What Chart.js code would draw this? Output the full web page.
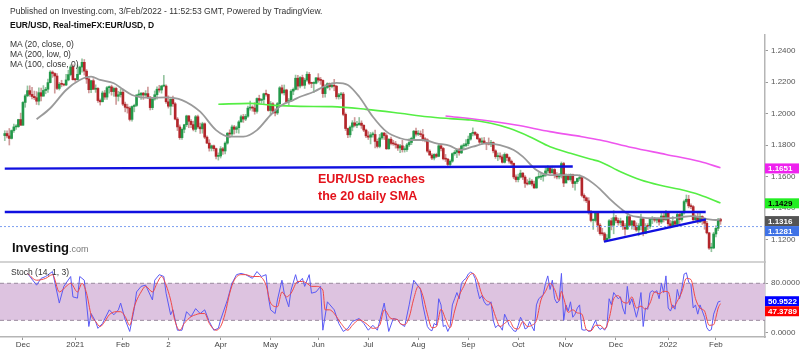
<!DOCTYPE html>
<html><head><meta charset="utf-8">
<script src="https://cdn.jsdelivr.net/npm/chart.js@4.4.0/dist/chart.umd.min.js"></script>
<style>
html,body{margin:0;padding:0;background:#fff;}
#wrap{position:relative;width:800px;height:352px;font-family:Arial,"Liberation Sans",sans-serif;overflow:hidden;}
#c{position:absolute;left:0;top:0;}
.t{position:absolute;white-space:nowrap;color:#333;font-size:8.5px;line-height:10px;}
.red{color:#e3121b;font-weight:bold;font-size:12.5px;line-height:14px;}
.logo{font-size:13px;line-height:14px;color:#111;}
.logo span{font-size:9px;color:#777;font-weight:normal;}
</style></head><body>
<div id="wrap">
<canvas id="c" width="800" height="352"></canvas>
<div class="t" style="left:10px;top:6px">Published on Investing.com, 3/Feb/2022 - 11:52:53 GMT, Powered by TradingView.</div>
<div class="t" style="left:10px;top:20px;font-weight:bold;color:#111">EUR/USD, Real-timeFX:EUR/USD, D</div>
<div class="t" style="left:10px;top:39px">MA (20, close, 0)</div>
<div class="t" style="left:10px;top:49px">MA (200, low, 0)</div>
<div class="t" style="left:10px;top:59px">MA (100, close, 0)</div>
<div class="t red" style="left:318px;top:172px">EUR/USD reaches</div>
<div class="t red" style="left:318px;top:189px">the 20 daily SMA</div>
<div class="t logo" style="left:12px;top:241px"><b>Investing</b><span>.com</span></div>
<div class="t" style="left:11px;top:267px">Stoch (14, 1, 3)</div>
</div>
<script>
// ---------------- DATA ----------------
const startIndex = -8; // first candle = 19 Nov 2020, index 0 = 1 Dec 2020
const opens = [
1.1860,1.1873,1.1858,1.1842,1.1892,1.1915,1.1917,1.1962,
1.1926,1.2071,1.2113,1.2146,1.2122,1.2109,1.2101,1.2079,1.2133,1.2111,1.2147,1.2155,1.2197,1.2264,1.2255,1.2239,1.2160,1.2187,1.2186,1.2182,1.2214,1.2248,1.2297,
1.2216,1.2215,1.2250,1.2296,1.2326,1.2270,1.2220,1.2152,1.2209,1.2155,1.2160,1.2083,1.2075,1.2131,1.2105,1.2165,1.2170,1.2140,1.2160,1.2110,1.2120,
1.2136,1.2060,1.2040,1.2035,1.1963,1.2045,1.2052,1.2118,1.2118,1.2130,1.2118,1.2127,1.2105,1.2038,1.2093,1.2120,1.2155,1.2150,1.2175,1.2175,
1.2075,1.2047,1.2091,1.2062,1.1965,1.1915,1.1847,1.1900,1.1929,1.1985,1.1951,1.1930,1.1900,1.1980,1.1915,1.1903,1.1935,1.1850,1.1812,1.1780,1.1795,1.1777,1.1728,
1.1730,1.1776,1.1762,1.1812,1.1875,1.1870,1.1915,1.1900,1.1910,1.1947,1.1980,1.1965,1.1983,1.2035,1.2037,1.2035,1.2014,1.2096,1.2084,1.2090,1.2126,1.2122,
1.2020,1.2062,1.2015,1.2004,1.2063,1.2164,1.2132,1.2150,1.2075,1.2081,1.2143,1.2154,1.2225,1.2175,1.2229,1.2180,1.2213,1.2250,1.2193,1.2192,1.2193,
1.2227,1.2213,1.2211,1.2127,1.2166,1.2190,1.2172,1.2180,1.2174,1.2107,1.2119,1.2124,1.1995,1.1905,1.1865,1.1914,1.1941,1.1925,1.1930,1.1939,1.1925,1.1895,
1.1858,1.1850,1.1865,1.1867,1.1823,1.1791,1.1845,1.1876,1.1860,1.1776,1.1837,1.1810,1.1807,1.1801,1.1781,1.1795,1.1770,1.1771,1.1801,1.1816,1.1842,1.1888,
1.1869,1.1869,1.1866,1.1835,1.1833,1.1761,1.1736,1.1717,1.1740,1.1728,1.1795,1.1778,1.1712,1.1710,1.1676,1.1697,1.1745,1.1754,1.1773,1.1750,1.1794,1.1797,
1.1808,1.1837,1.1874,1.1880,1.1868,1.1840,1.1818,1.1826,1.1813,1.1807,1.1806,1.1816,1.1763,1.1726,1.1728,1.1724,1.1690,1.1740,1.1720,1.1697,1.1683,1.1597,
1.1580,1.1596,1.1621,1.1596,1.1556,1.1552,1.1570,1.1552,1.1527,1.1594,1.1596,1.1601,1.1608,1.1635,1.1654,1.1623,1.1644,1.1608,1.1597,1.1604,1.1682,
1.1558,1.1607,1.1580,1.1612,1.1555,1.1567,1.1587,1.1593,1.1479,1.1464,1.1445,1.1369,1.1320,1.1320,1.1371,1.1290,1.1236,1.1235,1.1196,1.1207,1.1318,1.1290,
1.1338,1.1320,1.1305,1.1316,1.1285,1.1265,1.1344,1.1290,1.1316,1.1285,1.1259,1.1286,1.1330,1.1238,1.1283,1.1282,1.1327,1.1328,1.1322,1.1327,1.1310,1.1348,1.1324,
1.1370,1.1299,1.1287,1.1313,1.1296,1.1358,1.1326,1.1368,1.1440,1.1455,1.1413,1.1408,1.1325,1.1343,1.1311,1.1345,1.1325,1.1302,1.1241,1.1144,1.1145,
1.1234,1.1270,1.1328];
const highs = [
1.1891,1.1890,1.1905,1.1896,1.1933,1.1930,1.1964,1.2003,
1.2077,1.2122,1.2176,1.2177,1.2167,1.2143,1.2140,1.2164,1.2162,1.2178,1.2167,1.2220,1.2273,1.2272,1.2260,1.2255,1.2198,1.2212,1.2190,1.2250,1.2276,1.2310,1.2310,
1.2224,1.2310,1.2302,1.2349,1.2344,1.2280,1.2227,1.2212,1.2222,1.2183,1.2166,1.2093,1.2143,1.2147,1.2173,1.2176,1.2181,1.2169,1.2168,1.2142,1.2155,
1.2150,1.2073,1.2060,1.2044,1.2050,1.2060,1.2121,1.2150,1.2133,1.2135,1.2146,1.2168,1.2108,1.2096,1.2144,1.2170,1.2180,1.2180,1.2243,1.2183,
1.2113,1.2094,1.2112,1.2070,1.1975,1.1928,1.1910,1.1932,1.1990,1.1988,1.1962,1.1952,1.1989,1.1990,1.1940,1.1945,1.1941,1.1859,1.1834,1.1800,1.1800,1.1780,1.1750,
1.1790,1.1785,1.1820,1.1880,1.1897,1.1927,1.1925,1.1920,1.1955,1.1990,1.1995,1.1995,1.2048,1.2079,1.2050,1.2070,1.2100,1.2117,1.2095,1.2130,1.2150,1.2124,
1.2077,1.2070,1.2030,1.2071,1.2172,1.2182,1.2182,1.2155,1.2096,1.2153,1.2163,1.2245,1.2244,1.2235,1.2245,1.2225,1.2266,1.2262,1.2200,1.2202,1.2231,
1.2254,1.2230,1.2215,1.2185,1.2196,1.2195,1.2195,1.2218,1.2180,1.2129,1.2135,1.2135,1.2004,1.1907,1.1922,1.1955,1.1975,1.1950,1.1975,1.1954,1.1930,1.1902,
1.1885,1.1880,1.1883,1.1895,1.1838,1.1868,1.1880,1.1880,1.1872,1.1840,1.1850,1.1830,1.1823,1.1806,1.1805,1.1830,1.1790,1.1810,1.1840,1.1850,1.1893,1.1908,
1.1892,1.1890,1.1900,1.1848,1.1840,1.1770,1.1745,1.1745,1.1748,1.1804,1.1804,1.1785,1.1740,1.1715,1.1705,1.1750,1.1765,1.1775,1.1780,1.1800,1.1810,1.1835,
1.1857,1.1875,1.1909,1.1885,1.1875,1.1845,1.1845,1.1848,1.1815,1.1845,1.1830,1.1820,1.1770,1.1750,1.1750,1.1738,1.1750,1.1745,1.1725,1.1705,1.1686,1.1610,
1.1615,1.1640,1.1625,1.1605,1.1580,1.1590,1.1580,1.1570,1.1600,1.1625,1.1620,1.1620,1.1660,1.1668,1.1660,1.1666,1.1650,1.1625,1.1620,1.1692,1.1690,
1.1617,1.1615,1.1617,1.1615,1.1570,1.1590,1.1610,1.1600,1.1490,1.1470,1.1465,1.1385,1.1330,1.1375,1.1375,1.1300,1.1270,1.1245,1.1230,1.1325,1.1335,1.1383,
1.1353,1.1335,1.1335,1.1320,1.1300,1.1355,1.1350,1.1320,1.1320,1.1305,1.1300,1.1360,1.1335,1.1300,1.1300,1.1330,1.1345,1.1340,1.1330,1.1332,1.1365,1.1365,1.1385,
1.1375,1.1320,1.1345,1.1320,1.1365,1.1365,1.1375,1.1450,1.1482,1.1480,1.1425,1.1415,1.1355,1.1370,1.1365,1.1350,1.1335,1.1315,1.1245,1.1175,1.1245,
1.1285,1.1332,1.1334];
const lows = [
1.1828,1.1845,1.1800,1.1838,1.1880,1.1900,1.1912,1.1925,
1.1925,1.2040,1.2107,1.2110,1.2093,1.2089,1.2058,1.2055,1.2080,1.2111,1.2126,1.2135,1.2195,1.2230,1.2130,1.2152,1.2150,1.2170,1.2176,1.2178,1.2208,1.2240,1.2212,
1.2205,1.2220,1.2250,1.2264,1.2245,1.2192,1.2132,1.2133,1.2153,1.2135,1.2071,1.2054,1.2075,1.2090,1.2090,1.2130,1.2117,1.2110,1.2058,1.2080,1.2105,
1.2050,1.2011,1.2003,1.1953,1.1952,1.2011,1.2045,1.2110,1.2090,1.2090,1.2109,1.2095,1.2023,1.2025,1.2085,1.2091,1.2136,1.2130,1.2170,1.2064,
1.2035,1.1992,1.2045,1.1960,1.1892,1.1836,1.1835,1.1878,1.1917,1.1910,1.1910,1.1890,1.1884,1.1906,1.1873,1.1875,1.1840,1.1808,1.1761,1.1762,1.1762,1.1712,1.1704,
1.1717,1.1740,1.1743,1.1805,1.1846,1.1860,1.1870,1.1877,1.1875,1.1945,1.1944,1.1955,1.1975,1.2021,1.2015,1.1996,1.2003,1.2070,1.2065,1.2060,1.2110,1.2015,
1.1995,1.1999,1.1985,1.1994,1.2051,1.2125,1.2118,1.2071,1.2052,1.2078,1.2120,1.2150,1.2151,1.2163,1.2175,1.2160,1.2205,1.2185,1.2165,1.2133,1.2188,
1.2200,1.2186,1.2103,1.2105,1.2160,1.2150,1.2163,1.2145,1.2093,1.2092,1.2095,1.1986,1.1892,1.1847,1.1850,1.1890,1.1915,1.1910,1.1925,1.1906,1.1885,1.1846,
1.1835,1.1807,1.1850,1.1782,1.1781,1.1782,1.1835,1.1835,1.1772,1.1773,1.1800,1.1798,1.1780,1.1765,1.1752,1.1755,1.1755,1.1760,1.1790,1.1802,1.1835,1.1857,
1.1860,1.1853,1.1825,1.1820,1.1753,1.1735,1.1707,1.1705,1.1720,1.1725,1.1762,1.1705,1.1695,1.1666,1.1664,1.1690,1.1735,1.1720,1.1735,1.1745,1.1775,1.1790,
1.1795,1.1830,1.1858,1.1860,1.1835,1.1802,1.1805,1.1808,1.1770,1.1800,1.1790,1.1750,1.1715,1.1701,1.1710,1.1685,1.1685,1.1700,1.1685,1.1670,1.1585,1.1565,
1.1565,1.1590,1.1580,1.1530,1.1545,1.1550,1.1540,1.1524,1.1525,1.1585,1.1580,1.1570,1.1600,1.1620,1.1618,1.1620,1.1590,1.1585,1.1585,1.1590,1.1535,
1.1560,1.1575,1.1570,1.1530,1.1513,1.1555,1.1575,1.1470,1.1445,1.1433,1.1360,1.1310,1.1263,1.1310,1.1250,1.1226,1.1225,1.1186,1.1190,1.1205,1.1260,1.1235,
1.1305,1.1290,1.1290,1.1262,1.1227,1.1262,1.1285,1.1265,1.1262,1.1250,1.1222,1.1260,1.1222,1.1235,1.1262,1.1270,1.1300,1.1310,1.1305,1.1290,1.1300,1.1310,1.1320,
1.1280,1.1272,1.1285,1.1285,1.1290,1.1300,1.1315,1.1360,1.1430,1.1400,1.1395,1.1315,1.1310,1.1300,1.1306,1.1295,1.1264,1.1235,1.1135,1.1121,1.1140,
1.1215,1.1255,1.1295];
const closes = [
1.1873,1.1858,1.1842,1.1892,1.1915,1.1917,1.1962,1.1926,
1.2071,1.2113,1.2146,1.2122,1.2109,1.2101,1.2079,1.2133,1.2111,1.2147,1.2155,1.2197,1.2264,1.2255,1.2239,1.2160,1.2187,1.2186,1.2182,1.2214,1.2248,1.2297,1.2216,
1.2215,1.2250,1.2296,1.2326,1.2270,1.2220,1.2152,1.2209,1.2155,1.2160,1.2083,1.2075,1.2131,1.2105,1.2165,1.2170,1.2140,1.2160,1.2110,1.2120,1.2136,
1.2060,1.2040,1.2035,1.1963,1.2045,1.2052,1.2118,1.2118,1.2130,1.2118,1.2127,1.2105,1.2038,1.2093,1.2120,1.2155,1.2150,1.2175,1.2175,1.2075,
1.2047,1.2091,1.2062,1.1965,1.1915,1.1847,1.1900,1.1929,1.1985,1.1951,1.1930,1.1900,1.1980,1.1915,1.1903,1.1935,1.1850,1.1812,1.1780,1.1795,1.1777,1.1728,1.1730,
1.1776,1.1762,1.1812,1.1875,1.1870,1.1915,1.1900,1.1910,1.1947,1.1980,1.1965,1.1983,1.2035,1.2037,1.2035,1.2014,1.2096,1.2084,1.2090,1.2126,1.2122,1.2020,
1.2062,1.2015,1.2004,1.2063,1.2164,1.2132,1.2150,1.2075,1.2081,1.2143,1.2154,1.2225,1.2175,1.2229,1.2180,1.2213,1.2250,1.2193,1.2192,1.2193,1.2227,
1.2213,1.2211,1.2127,1.2166,1.2190,1.2172,1.2180,1.2174,1.2107,1.2119,1.2124,1.1995,1.1905,1.1865,1.1914,1.1941,1.1925,1.1930,1.1939,1.1925,1.1895,1.1858,
1.1850,1.1865,1.1867,1.1823,1.1791,1.1845,1.1876,1.1860,1.1776,1.1837,1.1810,1.1807,1.1801,1.1781,1.1795,1.1770,1.1771,1.1801,1.1816,1.1842,1.1888,1.1869,
1.1869,1.1866,1.1835,1.1833,1.1761,1.1736,1.1717,1.1740,1.1728,1.1795,1.1778,1.1712,1.1710,1.1676,1.1697,1.1745,1.1754,1.1773,1.1750,1.1794,1.1797,1.1808,
1.1837,1.1874,1.1880,1.1868,1.1840,1.1818,1.1826,1.1813,1.1807,1.1806,1.1816,1.1763,1.1726,1.1728,1.1724,1.1690,1.1740,1.1720,1.1697,1.1683,1.1597,1.1580,
1.1596,1.1621,1.1596,1.1556,1.1552,1.1570,1.1552,1.1527,1.1594,1.1596,1.1601,1.1608,1.1635,1.1654,1.1623,1.1644,1.1608,1.1597,1.1604,1.1682,1.1558,
1.1607,1.1580,1.1612,1.1555,1.1567,1.1587,1.1593,1.1479,1.1464,1.1445,1.1369,1.1320,1.1320,1.1371,1.1290,1.1236,1.1235,1.1196,1.1207,1.1318,1.1290,1.1338,
1.1320,1.1305,1.1316,1.1285,1.1265,1.1344,1.1290,1.1316,1.1285,1.1259,1.1286,1.1330,1.1238,1.1283,1.1282,1.1327,1.1328,1.1322,1.1327,1.1310,1.1348,1.1324,1.1370,
1.1299,1.1287,1.1313,1.1296,1.1358,1.1326,1.1368,1.1440,1.1455,1.1413,1.1408,1.1325,1.1343,1.1311,1.1345,1.1325,1.1302,1.1241,1.1144,1.1145,1.1234,
1.1270,1.1328,1.1316];

const monthTicks  = [0,23,44,64,87,109,130,152,174,196,218,239,261,284,305];
const monthLabels = ['Dec','2021','Feb','2','Apr','May','Jun','Jul','Aug','Sep','Oct','Nov','Dec','2022','Feb'];
const priceTicks = [1.12,1.14,1.16,1.18,1.20,1.22,1.24];
const stochTicks = [0,80];

const ma20Idx = [6,12,19,25,30,34,40,44,48,52,56,63,70,78,85,91,97,103,109,114,119,122,128,134,138,143,148,154,160,166,170,176,182,188,192,198,204,210,216,220,226,232,238,244,247,251,254,258,263,267,272,277,283,289,294,298,302,305,307];
const ma20Val = [1.1964,1.2034,1.2150,1.2214,1.2235,1.2214,1.2193,1.2154,1.2118,1.2103,1.2100,1.2103,1.2086,1.2012,1.1895,1.1853,1.1853,1.1895,1.1991,1.2054,1.2086,1.2107,1.2139,1.2182,1.2196,1.2182,1.2107,1.1980,1.1885,1.1843,1.1832,1.1832,1.1811,1.1795,1.1768,1.1789,1.1811,1.1800,1.1768,1.1726,1.1641,1.1609,1.1609,1.1609,1.1594,1.1556,1.1519,1.1461,1.1397,1.1355,1.1340,1.1334,1.1334,1.1340,1.1348,1.1340,1.1327,1.1323,1.1327];
const ma100Idx = [86,100,109,122,136,151,166,178,188,197,206,214,223,232,241,250,254,263,272,280,289,298,307];
const ma100Val = [1.2059,1.2065,1.2054,1.2046,1.2044,1.2027,1.2002,1.1980,1.1968,1.1959,1.1938,1.1906,1.1853,1.1789,1.1747,1.1709,1.1694,1.1630,1.1577,1.1545,1.1518,1.1482,1.1431];
const ma200Idx = [186,202,217,232,246,254,268,283,298,307];
const ma200Val = [1.1985,1.1959,1.1927,1.1885,1.1853,1.1832,1.1784,1.1740,1.1695,1.1655];

const res1Idx = [-8,242],      res1Val = [1.1650,1.1663];
const res2Idx = [-8,300.5],    res2Val = [1.1374,1.1374];
const trendIdx = [255.7,300.6], trendVal = [1.1185,1.1327];
const bidLine = 1.1281;
const priceTags = [1.1651,1.1429,1.1316,1.1281];
const stochTags = [50.9522,47.3789];
const stochBand = [80,20];

const kIdx = [2,6,8,10,13,16,18,21,22,24,25,27,29,30,32,33,35,38,40,42,43,45,47,49,50,52,54,57,58,60,62,63,65,66,68,70,72,74,76,78,80,82,84,86,87,90,92,94,96,98,101,103,105,107,108,109,111,112,114,115,117,118,120,121,123,124,126,127,129,131,132,134,137,139,141,143,145,148,150,152,154,156,159,161,163,165,
166,168,170,172,173,175,176,178,179,180,181,182,183,184,185,186,187,188,189,190,191,192,193,194,195,196,197,198,199,200,201,202,203,204,205,206,207,208,209,210,211,212,213,214,215,216,217,218,219,220,221,222,223,224,225,226,227,228,229,230,231,232,233,234,235,236,237,238,239,240,241,242,243,244,245,246,247,248,249,250,251,252,253,254,255,256,257,258,259,260,261,262,263,264,265,266,267,268,269,270,271,272,273,274,275,276,277,278,279,280,281,282,283,284,285,286,287,288,289,290,291,292,293,294,295,296,297,298,299,300,301,302,303,304,305,306,307];
const kVal = [96,77,88,91,99,48,75,91,58,56,91,85,10,31,18,7,15,37,29,37,48,21,2,39,66,75,77,53,85,94,91,64,29,37,4,4,34,26,39,31,37,18,4,7,21,53,80,94,96,94,88,99,91,94,58,37,31,53,85,64,42,69,94,80,88,75,94,64,66,75,4,50,37,15,2,7,18,23,15,4,12,4,48,2,23,21,
15,10,45,85,80,70,45,10,5,3,15,12,55,45,10,12,2,10,45,55,65,55,80,85,88,95,98,96,88,70,55,60,50,45,45,50,20,8,12,10,4,30,22,12,8,3,2,12,25,18,6,8,18,10,3,45,55,58,62,80,92,70,85,55,48,52,96,20,45,35,50,25,30,40,45,5,4,5,2,3,12,20,10,5,8,4,10,55,45,65,60,55,58,40,30,75,45,55,40,25,40,65,10,40,38,65,68,65,68,55,80,65,92,40,35,45,38,70,55,72,95,97,82,78,40,45,30,45,35,25,8,3,5,30,40,50,51];
const dIdx = [2,6,10,13,16,19,21,24,26,28,30,32,34,36,38,41,43,45,47,49,52,54,57,59,61,63,65,67,69,71,74,76,78,80,82,85,87,89,91,93,96,98,101,104,107,109,112,114,116,118,121,123,125,127,129,132,133,135,137,140,143,145,148,151,154,157,159,162,165,
166,168,170,172,174,176,178,180,182,184,186,188,190,192,194,196,198,200,202,204,206,208,210,212,214,216,218,220,222,224,226,228,230,232,234,236,237,238,240,242,244,246,248,250,252,254,256,258,260,262,264,266,268,270,272,274,276,278,280,282,284,286,288,290,292,294,296,298,300,302,304,305,306,307];
const dVal = [96,85,88,94,66,75,80,66,80,64,29,18,10,18,29,34,34,26,12,42,66,75,66,80,91,77,53,18,4,15,26,29,31,31,15,4,10,31,64,85,94,94,91,91,77,48,42,66,58,64,83,83,80,75,75,69,37,37,31,15,4,12,21,15,7,12,37,23,21,
15,13,25,55,75,60,30,8,10,38,22,8,35,60,75,90,96,85,62,52,47,26,10,15,20,8,6,18,10,12,20,53,67,80,70,52,67,56,33,37,32,30,5,3,12,12,6,23,55,60,50,48,58,40,43,38,48,66,63,67,66,40,51,66,88,86,55,40,35,12,13,25,40,47];

// ---------------- STYLE / BUILD ----------------
const UP='#23994a', DN='#b3262b', UPW='#95c4a0', DNW='#cf9a9a';
const tagStyle = [['#ee22ee','#fff'],['#22ee22','#000'],['#555555','#fff'],['#3f72e6','#fff']];
const stochTagStyle = [['#0000ff','#fff'],['#ff0000','#fff']];
const XMIN=-10.1, XMAX=326.6;
const pts=(xs,ys)=>xs.map((x,i)=>({x:x,y:ys[i]}));
const isUp=k=>closes[k]>=opens[k];
const wickData=closes.map((c,k)=>({x:startIndex+k,y:[lows[k],highs[k]]}));
const bodyData=closes.map((c,k)=>({x:startIndex+k,y:[opens[k],c]}));
const line=(data,color,w,order,extra)=>Object.assign({type:'line',data:data,borderColor:color,borderWidth:w,pointRadius:0,fill:false,order:order,yAxisID:'y'},extra||{});

const datasets=[
 {type:'bar',data:wickData,grouped:false,barThickness:1,order:60,yAxisID:'y',
  backgroundColor:c=>isUp(c.dataIndex)?UPW:DNW},
 {type:'bar',data:bodyData,grouped:false,barThickness:2,minBarLength:1,order:55,yAxisID:'y',
  backgroundColor:c=>isUp(c.dataIndex)?UP:DN},
 line(pts(ma20Idx,ma20Val),'#9a9a9a',1.8,30,{cubicInterpolationMode:'monotone'}),
 line(pts(ma100Idx,ma100Val),'#55ee44',1.6,31,{cubicInterpolationMode:'monotone'}),
 line(pts(ma200Idx,ma200Val),'#ee55ee',1.6,32,{cubicInterpolationMode:'monotone'}),
 line(pts([XMIN,XMAX],[bidLine,bidLine]),'#7d9ff0',1,25,{borderDash:[2,2]}),
 line(pts(res1Idx,res1Val),'#1010e0',2.4,20),
 line(pts(res2Idx,res2Val),'#1010e0',2.4,20),
 line(pts(trendIdx,trendVal),'#1010e0',2.4,20),
 line(pts([XMIN,XMAX],[stochBand[0],stochBand[0]]),'#9a8a9e',1,100,{yAxisID:'y2',borderDash:[4,3],fill:'+1',backgroundColor:'#ddc3e0'}),
 line(pts([XMIN,XMAX],[stochBand[1],stochBand[1]]),'#9a8a9e',1,99,{yAxisID:'y2',borderDash:[4,3]}),
 line(pts(kIdx,kVal),'#5a5af5',1,12,{yAxisID:'y2'}),
 line(pts(dIdx,dVal),'#f04848',1,11,{yAxisID:'y2',cubicInterpolationMode:'monotone'})
];

const axisFont={size:8,family:'Arial, "Liberation Sans", sans-serif'};
const tagPlugin={id:'tags',afterDraw(chart){
  const c=chart.ctx,a=chart.chartArea,ys=chart.scales.y,y2=chart.scales.y2;
  c.save();
  c.strokeStyle='#c4c4c4';c.lineWidth=1.5;
  c.beginPath();c.moveTo(0,ys.bottom);c.lineTo(a.right,ys.bottom);c.stroke();
  const draw=(vals,styles,scale)=>{
    let prev=-1e9;
    vals.forEach((v,i)=>{
      let yc=scale.getPixelForValue(v);
      if(yc-5<prev) yc=prev+5;
      prev=yc+5;
      c.fillStyle=styles[i][0];c.fillRect(a.right,yc-5,34,10);
      c.fillStyle=styles[i][1];c.font='bold 8px Arial, "Liberation Sans", sans-serif';
      c.textBaseline='middle';c.textAlign='left';c.fillText(v.toFixed(4),a.right+3,yc+0.5);
    });
  };
  draw(priceTags,tagStyle,ys);draw(stochTags,stochTagStyle,y2);
  c.restore();
}};

new Chart(document.getElementById('c'),{
  type:'bar',
  data:{datasets:datasets},
  options:{
    responsive:false,animation:false,events:[],
    layout:{padding:{top:35,left:0,right:0,bottom:0}},
    plugins:{legend:{display:false},tooltip:{enabled:false}},
    scales:{
      x:{type:'linear',min:XMIN,max:XMAX,offset:false,
         afterBuildTicks:s=>{s.ticks=monthTicks.map(v=>({value:v}));},
         afterFit:s=>{s.height=15;},
         ticks:{autoSkip:false,maxRotation:0,padding:0,font:axisFont,color:'#444',callback:(v,i)=>monthLabels[i]},
         grid:{display:true,offset:false,drawOnChartArea:false,drawTicks:true,tickLength:3,color:'#999'},
         border:{display:true,color:'#b5b5b5',width:1.5}},
      y:{type:'linear',position:'right',stack:'p',stackWeight:227,min:1.10556,max:1.25,
         afterBuildTicks:s=>{s.ticks=priceTicks.map(v=>({value:v}));},
         afterFit:s=>{s.width=35;},
         ticks:{font:axisFont,color:'#555',padding:3,callback:v=>v.toFixed(4)},
         grid:{display:true,drawOnChartArea:false,drawTicks:true,tickLength:3,color:'#999'},
         border:{display:true,color:'#b5b5b5',width:1.5}},
      y2:{type:'linear',position:'right',stack:'p',stackWeight:75,min:-7,max:114.5,
         afterBuildTicks:s=>{s.ticks=stochTicks.map(v=>({value:v}));},
         afterFit:s=>{s.width=35;},
         ticks:{font:axisFont,color:'#555',padding:3,callback:v=>v.toFixed(4)},
         grid:{display:true,drawOnChartArea:false,drawTicks:true,tickLength:3,color:'#999'},
         border:{display:true,color:'#b5b5b5',width:1.5}}
    }
  },
  plugins:[tagPlugin]
});
</script>
</body></html>
